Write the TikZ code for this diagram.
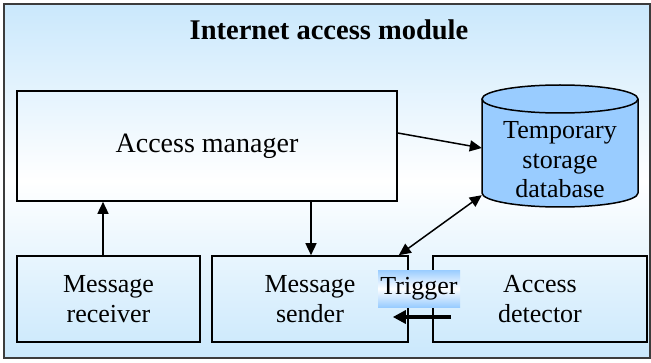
\documentclass[tikz,border=0pt]{standalone}
\usepackage{fontspec}
\setmainfont{Liberation Serif}
\usetikzlibrary{arrows.meta,calc}
\definecolor{bgblue}{RGB}{202,232,252}
\definecolor{dbblue}{RGB}{153,204,255}
\definecolor{framegray}{RGB}{60,60,60}
\begin{document}
\begin{tikzpicture}[x=1pt,y=1pt,
  box/.style={draw=black,line width=1.6pt,rectangle,inner sep=0pt,align=center,
    font=\fontsize{26}{30}\selectfont},
  arr/.style={line width=1.5pt,-{Triangle[length=12pt,width=11pt]}},
  darr/.style={line width=1.5pt,{Triangle[length=12pt,width=11pt]}-{Triangle[length=12pt,width=11pt]}},
  trarr/.style={line width=3.2pt,-{Triangle[length=13pt,width=13pt]}},
  lbl/.style={inner sep=0pt,align=center,font=\fontsize{26}{29.5}\selectfont}]
\useasboundingbox (0,0) rectangle (651,362);
% background frame
\shade[top color=bgblue,bottom color=white] (4,181) rectangle (650,358);
\shade[top color=white,bottom color=bgblue] (4,4) rectangle (650,181.5);
\draw[framegray,line width=1.2pt] (4,4) rectangle (650,358);
% title
\node[lbl,font=\fontsize{28.5}{32}\selectfont\bfseries] (title) at (329,332) {Internet access module};
% access manager
\node[box,font=\fontsize{28}{32}\selectfont,minimum width=380,minimum height=110] (am) at (207,216) {Access manager};
% database cylinder
\fill[dbblue] (482,263) -- (482,169) arc[start angle=180,end angle=360,x radius=78,y radius=14] -- (638,263) arc[start angle=0,end angle=180,x radius=78,y radius=14] -- cycle;
\draw[line width=1.5pt] (482,263) -- (482,169) arc[start angle=180,end angle=360,x radius=78,y radius=14] -- (638,263);
\draw[line width=1.5pt,fill=dbblue] (560,263) ellipse[x radius=78,y radius=14];
\node[lbl,minimum width=156,minimum height=94] (db) at (560,202) {Temporary\\storage\\database};
% bottom boxes
\node[box,minimum width=183,minimum height=86] (rcv) at (108.5,63) {Message\\receiver};
\node[box,minimum width=196,minimum height=86] (snd) at (310,63) {Message\\sender};
\node[box,minimum width=214,minimum height=86] (det) at (540,63) {Access\\detector};
% connectors
\coordinate (r1) at ([xshift=-5.5pt]rcv.north);
\draw[arr] (r1) -- (r1 |- am.south);
\coordinate (s1) at ([xshift=1pt]snd.north);
\draw[arr] (s1 |- am.south) -- (s1);
\coordinate (a1) at ([yshift=13pt]am.east);
\coordinate (d1) at ([yshift=12pt]db.west);
\draw[arr] (a1) -- (d1);
\coordinate (s2) at ([xshift=-10pt]snd.north east);
\coordinate (d2) at ([yshift=12pt]db.south west);
\draw[darr] (s2) -- (d2);
% trigger
\node[lbl,top color=dbblue,bottom color=dbblue,middle color=white,minimum width=82,minimum height=37] (trg) at (419,73.5) {Trigger};
\coordinate (t1) at ([xshift=19pt,yshift=-18pt]det.west);
\coordinate (t2) at ([xshift=-16pt,yshift=-18pt]snd.east);
\draw[trarr] (t1) -- (t2);
\end{tikzpicture}
\end{document}
